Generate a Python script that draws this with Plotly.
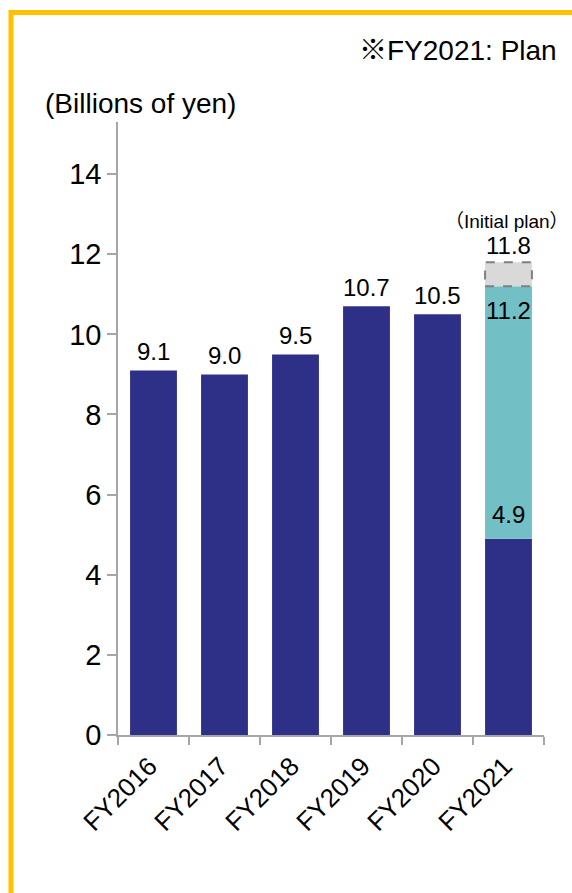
import plotly.graph_objects as go

categories = ["FY2016", "FY2017", "FY2018", "FY2019", "FY2020", "FY2021"]
results = [9.1, 9.0, 9.5, 10.7, 10.5, 4.9]      # navy bars (FY2021: first-half actual)
fy2021_plan = 11.2                               # revised plan
fy2021_initial_plan = 11.8                       # initial plan
label_texts = ["9.1", "9.0", "9.5", "10.7", "10.5"]
y_ticks = [0, 2, 4, 6, 8, 10, 12, 14]

NAVY = "#2E3088"
TEAL = "#72BFC5"
GRAY = "#D9D9D9"
AXIS = "#A6A6A6"
FONT = "Liberation Sans, Arial, Noto Sans CJK JP, sans-serif"

W, H = 572, 893
ML, MR, MT, MB = 118, 28, 122, 158
PW, PH = W - ML - MR, H - MT - MB

def px2x(px):
    return (px - ML) / PW

def px2y(py):
    return (H - MB - py) / PH

fig = go.Figure()
fig.add_trace(go.Bar(x=categories, y=results, marker=dict(color=NAVY, line=dict(width=0)),
                     hoverinfo="skip"))
last = categories[-1]
fig.add_trace(go.Bar(x=[last], y=[fy2021_plan - results[-1]], base=[results[-1]],
                     marker=dict(color=TEAL, line=dict(width=0)), hoverinfo="skip"))
fig.add_trace(go.Bar(x=[last], y=[fy2021_initial_plan - fy2021_plan], base=[fy2021_plan],
                     marker=dict(color=GRAY, line=dict(width=0)), hoverinfo="skip"))

bar_frac = 0.66
idx = len(categories) - 1
fig.add_shape(type="rect", xref="x", yref="y",
              x0=idx - bar_frac / 2, x1=idx + bar_frac / 2,
              y0=fy2021_plan, y1=fy2021_initial_plan,
              line=dict(color="#808080", width=2, dash="dash"), fillcolor="rgba(0,0,0,0)")

annots = []
for c, v, t in zip(categories[:-1], results[:-1], label_texts):
    annots.append(dict(x=c, y=v, text=t, xref="x", yref="y", showarrow=False,
                       yanchor="bottom", yshift=3, font=dict(size=24, color="#000")))
annots.append(dict(x=last, y=results[-1], text=f"{results[-1]:.1f}", xref="x", yref="y",
                   showarrow=False, yanchor="bottom", yshift=9, font=dict(size=24, color="#000")))
annots.append(dict(x=last, y=fy2021_plan, text=f"{fy2021_plan:.1f}", xref="x", yref="y",
                   showarrow=False, yanchor="top", yshift=-9, font=dict(size=24, color="#000")))
annots.append(dict(x=last, y=fy2021_initial_plan, text=f"{fy2021_initial_plan:.1f}", xref="x", yref="y",
                   showarrow=False, yanchor="bottom", yshift=1, font=dict(size=24, color="#000")))
annots.append(dict(x=last, y=fy2021_initial_plan, text="（Initial plan）", xref="x", yref="y",
                   showarrow=False, yanchor="bottom", yshift=28, xshift=-2,
                   font=dict(size=19, color="#000")))
annots.append(dict(x=px2x(559), y=px2y(50), text="※FY2021: Plan", xref="paper", yref="paper",
                   showarrow=False, xanchor="right", yanchor="middle", font=dict(size=28, color="#000")))
annots.append(dict(x=px2x(43), y=px2y(103), text="(Billions of yen)", xref="paper", yref="paper",
                   showarrow=False, xanchor="left", yanchor="middle", font=dict(size=28, color="#000")))

# yellow frame
fig.add_shape(type="rect", xref="paper", yref="paper",
              x0=px2x(11), x1=px2x(620), y0=px2y(12.5), y1=px2y(950),
              line=dict(color="#FFC000", width=5), fillcolor="rgba(0,0,0,0)", layer="above")

fig.update_layout(
    width=W, height=H, margin=dict(l=ML, r=MR, t=MT, b=MB, pad=0),
    barmode="overlay", bargap=1 - bar_frac, showlegend=False,
    plot_bgcolor="white", paper_bgcolor="white",
    font=dict(family=FONT, color="#000"),
    annotations=annots,
    xaxis=dict(type="category", showline=True, linecolor=AXIS, linewidth=1.5,
               ticks="outside", tickson="boundaries", ticklen=8, tickcolor=AXIS, tickwidth=1.5,
               tickangle=-45, tickfont=dict(size=26, color="#000"), showgrid=False,
               ticklabelshift=-4, ticklabelstandoff=4,
               range=[-0.5, len(categories) - 0.5]),
    yaxis=dict(range=[0, 15.3], tickvals=y_ticks, showline=True, linecolor=AXIS, linewidth=1.5,
               ticks="outside", ticklen=9, tickcolor=AXIS, tickwidth=1.5,
               tickfont=dict(size=29, color="#000"), showgrid=False, zeroline=False),
)

fig.write_html("out.html")
